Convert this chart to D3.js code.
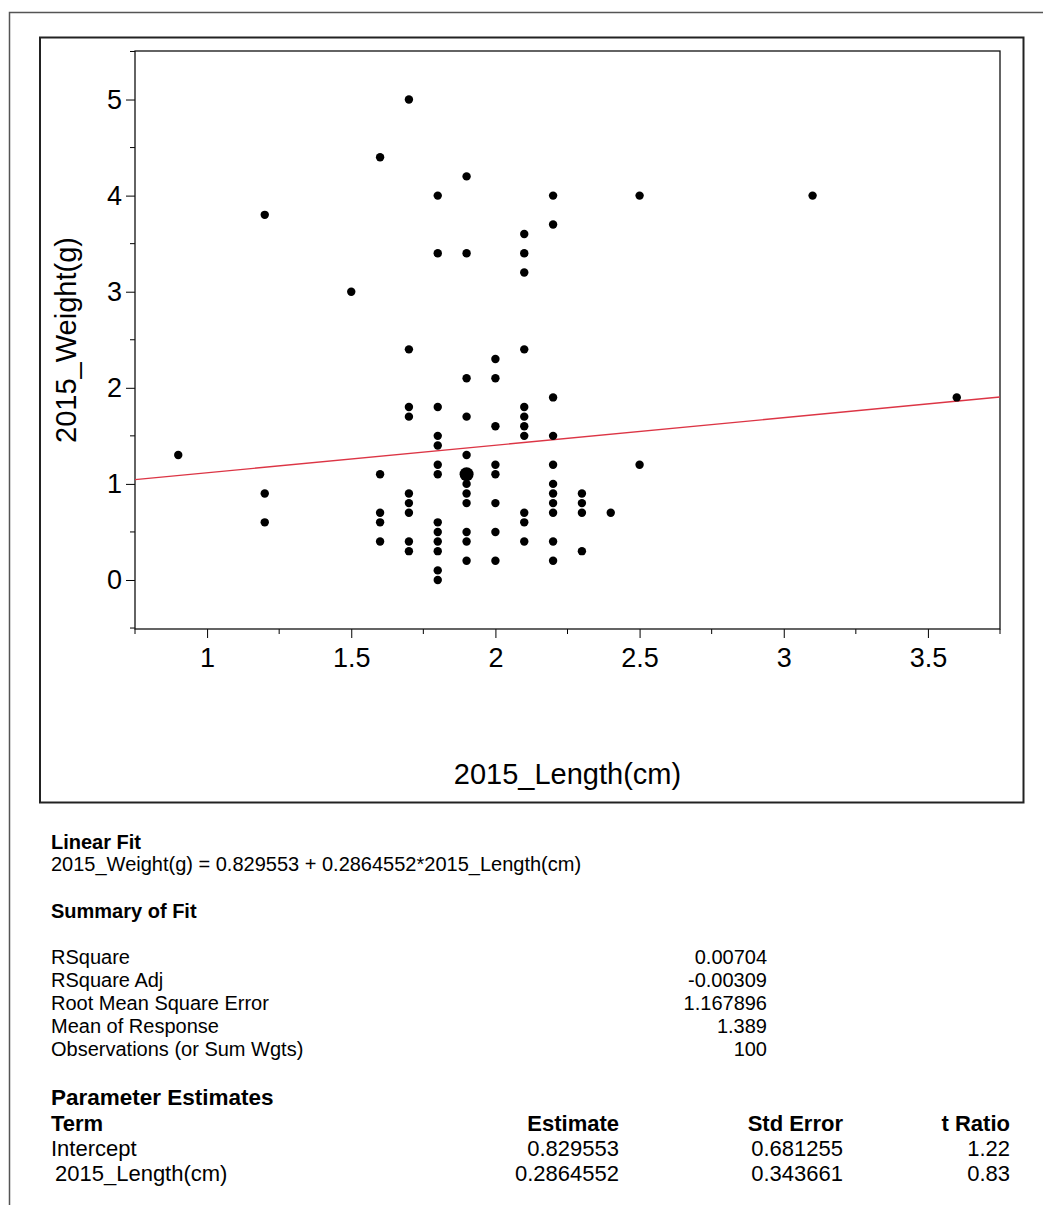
<!DOCTYPE html>
<html>
<head>
<meta charset="utf-8">
<script src="https://cdn.jsdelivr.net/npm/d3@7"></script>
<style>
  body { margin: 0; background: #fff; }
  text { font-family: "Liberation Sans", Arial, sans-serif; fill: #000; }
</style>
</head>
<body>
<div id="chart"></div>
<script>
// points (x = length, y = weight)
let lengthCm = [
    0.9,
    1.2, 1.2, 1.2,
    1.5,
    1.6, 1.6, 1.6, 1.6, 1.6,
    1.7, 1.7, 1.7, 1.7, 1.7, 1.7, 1.7, 1.7, 1.7,
    1.8, 1.8, 1.8, 1.8, 1.8, 1.8, 1.8, 1.8, 1.8, 1.8, 1.8, 1.8, 1.8,
    1.9, 1.9, 1.9, 1.9, 1.9, 1.9, 1.9, 1.9, 1.9, 1.9, 1.9,
    2.0, 2.0, 2.0, 2.0, 2.0, 2.0, 2.0, 2.0,
    2.1, 2.1, 2.1, 2.1, 2.1, 2.1, 2.1, 2.1, 2.1, 2.1, 2.1,
    2.2, 2.2, 2.2, 2.2, 2.2, 2.2, 2.2, 2.2, 2.2, 2.2, 2.2,
    2.3, 2.3, 2.3, 2.3,
    2.4,
    2.5, 2.5,
    3.1,
    3.6
];
let weightG = [
    1.3,
    3.8, 0.9, 0.6,
    3.0,
    4.4, 1.1, 0.7, 0.6, 0.4,
    5.0, 2.4, 1.8, 1.7, 0.9, 0.8, 0.7, 0.4, 0.3,
    4.0, 3.4, 1.8, 1.5, 1.4, 1.2, 1.1, 0.6, 0.5, 0.4, 0.3, 0.1, 0.0,
    4.2, 3.4, 2.1, 1.7, 1.3, 1.0, 0.9, 0.8, 0.5, 0.4, 0.2,
    2.3, 2.1, 1.6, 1.2, 1.1, 0.8, 0.5, 0.2,
    3.6, 3.4, 3.2, 2.4, 1.8, 1.7, 1.6, 1.5, 0.7, 0.6, 0.4,
    4.0, 3.7, 1.9, 1.5, 1.2, 1.0, 0.9, 0.8, 0.7, 0.4, 0.2,
    0.9, 0.8, 0.7, 0.3,
    0.7,
    4.0, 1.2,
    4.0,
    1.9
];
// the one big marker
let bigPoint = [1.9, 1.1];

// fit coefficients
let intercept = 0.829553;
let slope = 0.2864552;

let xTicks = [1, 1.5, 2, 2.5, 3, 3.5];
let xMinor = [0.75, 1.25, 1.75, 2.25, 2.75, 3.25, 3.75];
let yTicks = [0, 1, 2, 3, 4, 5];
let yMinor = [-0.5, 0.5, 1.5, 2.5, 3.5, 4.5, 5.5];

let xTitle = '2015_Length(cm)';
let yTitle = '2015_Weight(g)';

let fitTitle = 'Linear Fit';
let fitEquation = '2015_Weight(g) = 0.829553 + 0.2864552*2015_Length(cm)';
let summaryTitle = 'Summary of Fit';
let summaryLabels = ['RSquare', 'RSquare Adj', 'Root Mean Square Error', 'Mean of Response', 'Observations (or Sum Wgts)'];
let summaryValues = ['0.00704', '-0.00309', '1.167896', '1.389', '100'];
let paramTitle = 'Parameter Estimates';
let paramHeaders = ['Term', 'Estimate', 'Std Error', 't Ratio'];
let paramTerms = ['Intercept', '2015_Length(cm)'];
let paramEstimate = ['0.829553', '0.2864552'];
let paramStdError = ['0.681255', '0.343661'];
let paramTRatio = ['1.22', '0.83'];

let width = 1043;
let height = 1205;

let svg = d3.select('#chart')
    .append('svg')
    .attr('width', width)
    .attr('height', height);

svg.append('rect').attr('width', width).attr('height', height).attr('fill', '#fff');

// outer report frame (runs off the page on the right/bottom)
svg.append('path')
    .attr('d', `M9.5,${height}V12.5H${width}`)
    .attr('fill', 'none')
    .attr('stroke', '#555')
    .attr('stroke-width', 1.5);

// graph frame
svg.append('rect')
    .attr('x', 40).attr('y', 37.5)
    .attr('width', 983.5).attr('height', 765)
    .attr('fill', 'none')
    .attr('stroke', '#222')
    .attr('stroke-width', 2);

let plot = {left: 135, top: 51, right: 1000, bottom: 629};

let x = d3.scaleLinear().domain([0.75, 3.75]).range([plot.left, plot.right]);
let y = d3.scaleLinear().domain([-0.51, 5.505]).range([plot.bottom, plot.top]);

// x axis
let xAxis = svg.append('g')
    .attr('transform', `translate(0,${plot.bottom})`)
    .call(d3.axisBottom(x).tickValues(xTicks).tickSize(9).tickSizeOuter(0).tickPadding(10).tickFormat(d3.format('')));
xAxis.select('.domain').remove();
xAxis.selectAll('text').style('font-size', '27px').attr('font-family', null);
xAxis.selectAll('line').attr('stroke', '#000');

svg.append('g')
    .attr('transform', `translate(0,${plot.bottom})`)
    .selectAll('line')
    .data(xMinor)
    .join('line')
    .attr('x1', d => x(d)).attr('x2', d => x(d))
    .attr('y1', 0).attr('y2', 5)
    .attr('stroke', '#000');

// y axis
let yAxis = svg.append('g')
    .attr('transform', `translate(${plot.left},0)`)
    .call(d3.axisLeft(y).tickValues(yTicks).tickSize(9).tickSizeOuter(0).tickPadding(4).tickFormat(d3.format('d')));
yAxis.select('.domain').remove();
yAxis.selectAll('text').style('font-size', '27px').attr('font-family', null);
yAxis.selectAll('line').attr('stroke', '#000');

svg.append('g')
    .attr('transform', `translate(${plot.left},0)`)
    .selectAll('line')
    .data(yMinor)
    .join('line')
    .attr('x1', 0).attr('x2', -5)
    .attr('y1', d => y(d)).attr('y2', d => y(d))
    .attr('stroke', '#000');

// plot box
svg.append('rect')
    .attr('x', plot.left).attr('y', plot.top)
    .attr('width', plot.right - plot.left).attr('height', plot.bottom - plot.top)
    .attr('fill', 'none')
    .attr('stroke', '#111')
    .attr('stroke-width', 1.3);

// fit line across the whole x range
let xDom = x.domain();
svg.append('line')
    .attr('x1', x(xDom[0])).attr('y1', y(intercept + slope * xDom[0]))
    .attr('x2', x(xDom[1])).attr('y2', y(intercept + slope * xDom[1]))
    .attr('stroke', '#dc3545')
    .attr('stroke-width', 1.4);

// points
svg.append('g')
    .selectAll('circle')
    .data(lengthCm.map((d, i) => [d, weightG[i]]))
    .join('circle')
    .attr('cx', d => x(d[0]))
    .attr('cy', d => y(d[1]))
    .attr('r', 4.2)
    .attr('fill', '#000');

svg.append('circle')
    .attr('cx', x(bigPoint[0]))
    .attr('cy', y(bigPoint[1]))
    .attr('r', 7)
    .attr('fill', '#000');

// axis titles
svg.append('text')
    .attr('x', (plot.left + plot.right) / 2)
    .attr('y', 784)
    .attr('text-anchor', 'middle')
    .style('font-size', '29px')
    .text(xTitle);

svg.append('text')
    .attr('transform', `translate(76,${(plot.top + plot.bottom) / 2}) rotate(-90)`)
    .attr('text-anchor', 'middle')
    .style('font-size', '29px')
    .text(yTitle);

// report text below the graph
let left = 51;
svg.append('text').attr('x', left).attr('y', 849)
    .style('font-size', '20px').style('font-weight', 'bold').text(fitTitle);
svg.append('text').attr('x', left).attr('y', 871)
    .style('font-size', '20px').text(fitEquation);
svg.append('text').attr('x', left).attr('y', 918)
    .style('font-size', '20px').style('font-weight', 'bold').text(summaryTitle);

summaryLabels.forEach((label, i) => {
    let rowY = 964 + i * 23;
    svg.append('text').attr('x', left).attr('y', rowY)
        .style('font-size', '20px').text(label);
    svg.append('text').attr('x', 767).attr('y', rowY)
        .attr('text-anchor', 'end')
        .style('font-size', '20px').text(summaryValues[i]);
});

svg.append('text').attr('x', left).attr('y', 1105)
    .style('font-size', '22.5px').style('font-weight', 'bold').text(paramTitle);

let colRight = [null, 619, 843, 1010];
paramHeaders.forEach((h, i) => {
    svg.append('text')
        .attr('x', i === 0 ? left : colRight[i])
        .attr('y', 1131)
        .attr('text-anchor', i === 0 ? 'start' : 'end')
        .style('font-size', '22px').style('font-weight', 'bold')
        .text(h);
});

paramTerms.forEach((term, i) => {
    let rowY = 1156 + i * 25;
    svg.append('text').attr('x', i === 0 ? left : 55).attr('y', rowY)
        .style('font-size', '22px').text(term);
    [paramEstimate[i], paramStdError[i], paramTRatio[i]].forEach((v, j) => {
        svg.append('text').attr('x', colRight[j + 1]).attr('y', rowY)
            .attr('text-anchor', 'end')
            .style('font-size', '22px').text(v);
    });
});
</script>
</body>
</html>
